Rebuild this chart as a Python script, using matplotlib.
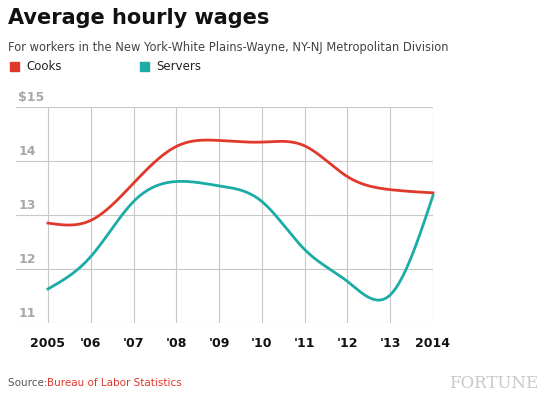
import numpy as np
import matplotlib.pyplot as plt

years = [2005, 2006, 2007, 2008, 2009, 2010, 2011, 2012, 2013, 2014]
year_labels = ["2005", "'06", "'07", "'08", "'09", "'10", "'11", "'12", "'13", "2014"]
cooks = [12.85, 12.90, 13.59, 14.27, 14.38, 14.35, 14.28, 13.71, 13.47, 13.41]
servers = [11.63, 12.23, 13.25, 13.62, 13.54, 13.25, 12.36, 11.77, 11.52, 13.36]
y_ticks = [11, 12, 13, 14, 15]
y_labels = ["11", "12", "13", "14", "$15"]

RED = "#e0392b"
TEAL = "#1aaca5"


def natural_spline(x, y, n=300):
    # natural cubic spline, just for a smooth line between the points
    x = np.asarray(x, float)
    y = np.asarray(y, float)
    k = len(x)
    h = np.diff(x)
    A = np.zeros((k, k))
    b = np.zeros(k)
    A[0, 0] = A[-1, -1] = 1
    for i in range(1, k - 1):
        A[i, i - 1] = h[i - 1]
        A[i, i] = 2 * (h[i - 1] + h[i])
        A[i, i + 1] = h[i]
        b[i] = 6 * ((y[i + 1] - y[i]) / h[i] - (y[i] - y[i - 1]) / h[i - 1])
    m = np.linalg.solve(A, b)
    xs = np.linspace(x[0], x[-1], n)
    idx = np.clip(np.searchsorted(x, xs) - 1, 0, k - 2)
    x0, x1 = x[idx], x[idx + 1]
    hh = x1 - x0
    t0, t1 = x1 - xs, xs - x0
    ys = (m[idx] * t0**3 + m[idx + 1] * t1**3) / (6 * hh) \
        + (y[idx] / hh - m[idx] * hh / 6) * t0 \
        + (y[idx + 1] / hh - m[idx + 1] * hh / 6) * t1
    return xs, ys


fig = plt.figure(figsize=(5.45, 4.0), dpi=100)
ax = fig.add_axes([16 / 545, 1 - 323 / 400, (433 - 16) / 545, (323 - 107) / 400])

for ser, col in [(cooks, RED), (servers, TEAL)]:
    xs, ys = natural_spline(years, ser)
    ax.plot(xs, ys, color=col, lw=2, clip_on=False, zorder=3)

ax.set_xlim(2005 - 32 / ((433 - 48) / 9), 2014)
ax.set_ylim(11, 15)
ax.set_yticks(y_ticks)
ax.set_yticklabels([])
ax.set_xticks(years)
ax.set_xticklabels(year_labels, fontsize=9, fontweight="bold", color="#111111")
ax.tick_params(length=0, pad=10)
ax.grid(True, color="#c8c8c8", lw=0.8)
for s in ax.spines.values():
    s.set_visible(False)
for v, lab in zip(y_ticks, y_labels):
    ax.text(0.005, v + 0.05, lab, transform=ax.get_yaxis_transform(), fontsize=9,
            fontweight="bold", color="#a8a8a8", va="bottom", ha="left")

fig.text(8 / 545, 1 - 18 / 400, "Average hourly wages", fontsize=15, fontweight="bold",
         family=["Liberation Sans Narrow", "DejaVu Sans"], va="center", color="#111111")
fig.text(8 / 545, 1 - 48 / 400, "For workers in the New York-White Plains-Wayne, NY-NJ Metropolitan Division",
         fontsize=8.3, color="#444444", va="center")
fig.patches.append(plt.Rectangle((10 / 545, 1 - 71 / 400), 9 / 545, 9 / 400, color=RED, transform=fig.transFigure))
fig.text(26 / 545, 1 - 66 / 400, "Cooks", fontsize=8.5, color="#222222", va="center")
fig.patches.append(plt.Rectangle((140 / 545, 1 - 71 / 400), 9 / 545, 9 / 400, color=TEAL, transform=fig.transFigure))
fig.text(156 / 545, 1 - 66 / 400, "Servers", fontsize=8.5, color="#222222", va="center")
fig.text(8 / 545, 1 - 383 / 400, "Source: ", fontsize=7.5, color="#555555", va="center")
fig.text(47 / 545, 1 - 383 / 400, "Bureau of Labor Statistics", fontsize=7.5, color=RED, va="center")
fig.text(538 / 545, 1 - 383 / 400, "FORTUNE", fontsize=12, family="DejaVu Serif", color="#c8c8c8",
         va="center", ha="right")

fig.savefig("out.png", dpi=100, facecolor="white")
